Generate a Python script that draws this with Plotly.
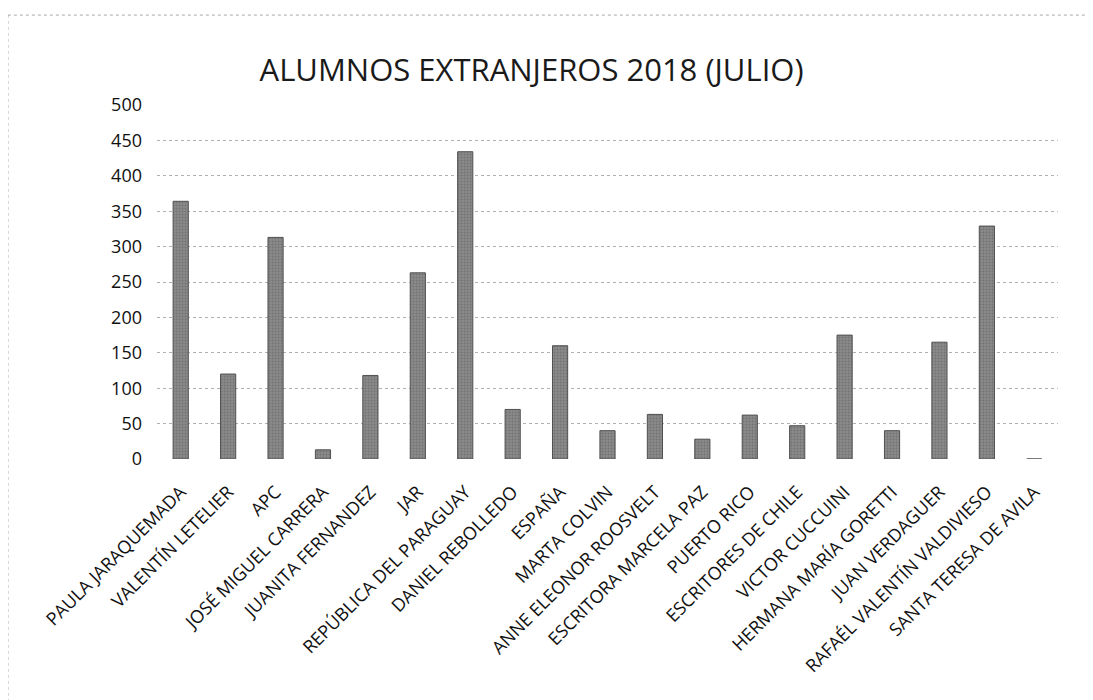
import plotly.graph_objects as go

categories = ["PAULA JARAQUEMADA", "VALENTÍN LETELIER", "APC", "JOSÉ MIGUEL CARRERA",
              "JUANITA FERNANDEZ", "JAR", "REPÚBLICA DEL PARAGUAY", "DANIEL REBOLLEDO",
              "ESPAÑA", "MARTA COLVIN", "ANNE ELEONOR ROOSVELT", "ESCRITORA MARCELA PAZ",
              "PUERTO RICO", "ESCRITORES DE CHILE", "VICTOR CUCCUINI", "HERMANA MARÍA GORETTI",
              "JUAN VERDAGUER", "RAFAÉL VALENTÍN VALDIVIESO", "SANTA TERESA DE AVILA"]
values = [364, 120, 313, 13, 118, 263, 434, 70, 160, 40, 63, 28, 62, 47, 175, 40, 165, 329, 0]
y_ticks = [0, 50, 100, 150, 200, 250, 300, 350, 400, 450, 500]

fig = go.Figure(go.Bar(
    x=categories, y=values,
    marker=dict(color="#8a8a8a", line=dict(color="#505050", width=1),
                pattern=dict(shape=".", fgcolor="#5a5a5a", size=3, solidity=0.35)),
    width=0.32,
))

fig.update_layout(
    width=1093, height=700,
    paper_bgcolor="white", plot_bgcolor="white",
    margin=dict(l=149, r=43, t=97, b=249),
    title=dict(text="ALUMNOS EXTRANJEROS 2018 (JULIO)", x=0.479, xanchor="center",
               y=0.911, yanchor="middle",
               font=dict(family="Open Sans", size=31, color="#1a1a1a")),
    font=dict(family="Open Sans", color="#1a1a1a"),
    showlegend=False,
    xaxis=dict(tickangle=-45, tickfont=dict(family="Open Sans", size=18, color="#111"),
               ticklabelstandoff=18,
               showgrid=False, showline=False, ticks=""),
    yaxis=dict(range=[0, 500], tickvals=y_ticks, tickfont=dict(size=18, color="#111"),
               ticklabelstandoff=14,
               showgrid=True, gridcolor="#b0b0b0", griddash="dot", gridwidth=1,
               zeroline=False, ticks="", showline=False),
    shapes=[
        dict(type="line", xref="paper", yref="paper", x0=-0.1655, x1=1.05, y0=1.254, y1=1.254,
             line=dict(color="#aaa", width=1, dash="dot")),
        dict(type="line", xref="paper", yref="paper", x0=-0.1655, x1=-0.1655, y0=-0.72, y1=1.254,
             line=dict(color="#999", width=1, dash="dot")),
    ],
)

fig.write_html("out.html")
